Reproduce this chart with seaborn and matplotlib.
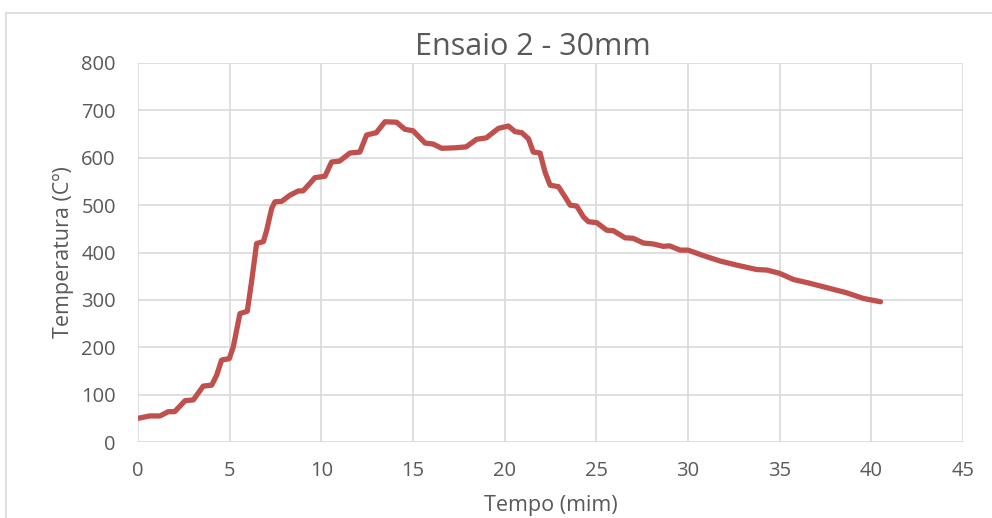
import matplotlib
matplotlib.use("Agg")
import matplotlib.pyplot as plt
from matplotlib.patches import Rectangle
import seaborn as sns
import pandas as pd

tempo = [0.0, 0.65, 1.2, 1.65, 2.0, 2.56, 3.02, 3.56, 4.02, 4.29, 4.56, 4.98, 5.2, 5.56,
         5.96, 6.2, 6.47, 6.84, 7.02, 7.29, 7.47, 7.84, 8.29, 8.75, 9.0, 9.38, 9.65, 10.2,
         10.56, 11.0, 11.56, 12.1, 12.47, 13.0, 13.47, 14.1, 14.56, 15.0, 15.66, 16.1,
         16.56, 17.3, 17.9, 18.47, 19.0, 19.66, 20.2, 20.57, 20.93, 21.3, 21.56, 21.93,
         22.2, 22.48, 22.93, 23.3, 23.57, 23.93, 24.3, 24.57, 25.02, 25.57, 25.93, 26.57,
         27.0, 27.57, 28.1, 28.65, 29.0, 29.57, 30.0, 30.8, 31.75, 32.7, 33.75, 34.3, 35.0,
         35.75, 36.65, 37.75, 38.65, 39.57, 40.5]
temperatura = [50, 55, 55, 64, 64, 87, 89, 118, 120, 141, 173, 176, 201, 271,
               276, 340, 419, 423, 447, 493, 507, 508, 521, 530, 530, 546, 558, 561,
               591, 593, 610, 612, 648, 653, 676, 675, 660, 657, 631, 629,
               620, 621, 623, 639, 642, 662, 667, 655, 653, 640, 612, 610,
               570, 542, 539, 517, 500, 498, 475, 465, 463, 447, 446, 431,
               430, 420, 418, 413, 414, 405, 405, 394, 382, 373, 364, 363, 356,
               343, 335, 324, 315, 303, 296]
x_ticks = [0, 5, 10, 15, 20, 25, 30, 35, 40, 45]
y_ticks = [0, 100, 200, 300, 400, 500, 600, 700, 800]
titulo = "Ensaio 2 - 30mm"
x_label = "Tempo (mim)"
y_label = "Temperatura (Cº)"

sns.set_theme(style="white")
plt.rcParams['font.family'] = ["Open Sans", 'DejaVu Sans']
txt = "#595959"

df = pd.DataFrame({"t": tempo, "T": temperatura})

W, H = 992, 518
fig = plt.figure(figsize=(W / 100, H / 100), dpi=100)
ax = fig.add_axes([138 / W, 1 - 442 / H, (963 - 138) / W, (442 - 63) / H])

fig.patches.append(Rectangle((6 / W, -0.1), 1.2, 1 - 13 / H + 0.1, transform=fig.transFigure,
                             fill=False, edgecolor="#D9D9D9", linewidth=1.2))

sns.lineplot(data=df, x="t", y="T", ax=ax, color="#C0504D", linewidth=3.8,
             solid_capstyle="round", solid_joinstyle="round")

ax.set_xlim(0, 45)
ax.set_ylim(0, 800)
ax.set_xticks(x_ticks)
ax.set_yticks(y_ticks)
ax.grid(True, color="#D9D9D9", linewidth=1.2)
ax.set_axisbelow(True)
for s in ax.spines.values():
    s.set_visible(False)
ax.tick_params(axis="both", length=0, labelsize=14.5, colors=txt)
ax.tick_params(axis="x", pad=14)
ax.tick_params(axis="y", pad=16)
ax.set_xlabel(x_label, fontsize=15.5, color=txt, labelpad=10)
ax.set_ylabel(y_label, fontsize=15.5, color=txt, labelpad=5)
fig.text(533 / W, 1 - 47 / H, titulo, ha="center", va="center", fontsize=22, color=txt)

fig.savefig("out.png", dpi=100)
